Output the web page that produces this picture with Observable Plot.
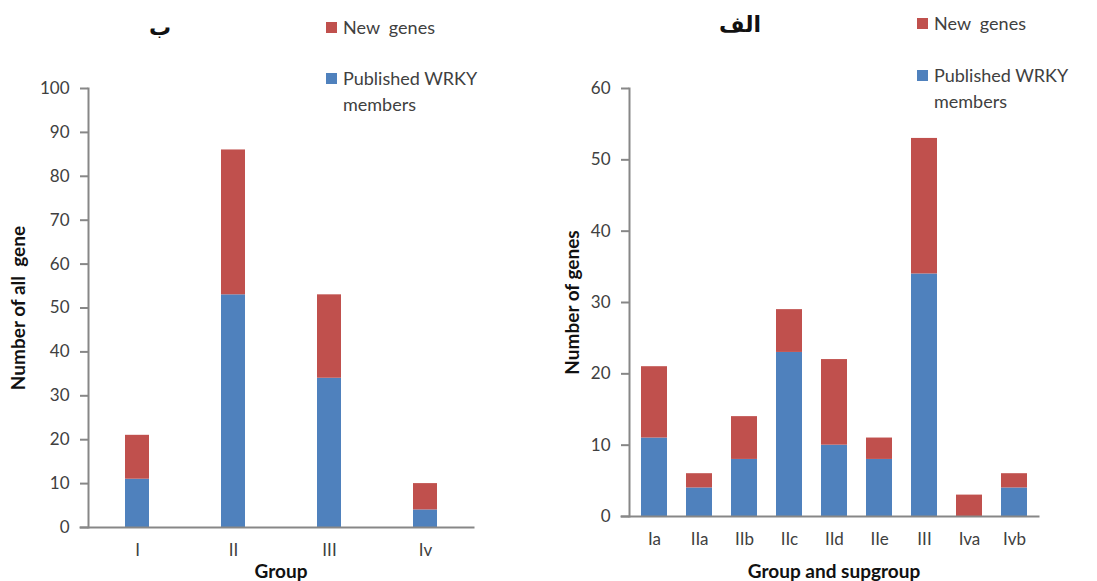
<!DOCTYPE html>
<html>
<head>
<meta charset="utf-8">
<script src="https://cdn.jsdelivr.net/npm/d3@7"></script>
<script src="https://cdn.jsdelivr.net/npm/@observablehq/plot@0.6"></script>
<style>
  html, body { margin: 0; padding: 0; background: #fff; }
  #wrap { display: flex; width: 1097px; height: 581px; font-family: Lato, "Open Sans", sans-serif; }
  .panel { position: relative; height: 581px; }
  .panel svg { position: absolute; left: 0; top: 0; }
  .panel svg text { white-space: pre; }
  .title { position: absolute; font-family: "DejaVu Sans", sans-serif; font-weight: bold; font-size: 22px; line-height: 1; color: #111; transform: translate(-50%, -50%); direction: rtl; }
  .leg { position: absolute; font-size: 18px; color: #404040; white-space: pre; line-height: 26px; }
  .sw { position: absolute; width: 11px; height: 11px; }
</style>
</head>
<body>
<div id="wrap">
  <div class="panel" id="left" style="width:550px"></div>
  <div class="panel" id="right" style="width:547px"></div>
</div>
<script>
// Panel ب : WRKY genes per group
const groups = ["I", "II", "III", "Iv"];
const groupPublished = [11, 53, 34, 4];
const groupNew = [10, 33, 19, 6];

// Panel الف : WRKY genes per group and subgroup
const subgroups = ["Ia", "IIa", "IIb", "IIc", "IId", "IIe", "III", "Iva", "Ivb"];
const subPublished = [11, 4, 8, 23, 10, 8, 34, 0, 4];
const subNew = [10, 2, 6, 6, 12, 3, 19, 3, 2];

const seriesNames = ["Published WRKY members", "New  genes"];
const seriesColors = ["#4F81BD", "#C0504D"];
const yTicksLeft = d3.range(0, 101, 10);
const yTicksRight = d3.range(0, 61, 10);

function longForm(cats, pub, nw) {
  const rows = [];
  cats.forEach((c, i) => rows.push({cat: c, series: seriesNames[0], value: pub[i]}));
  cats.forEach((c, i) => rows.push({cat: c, series: seriesNames[1], value: nw[i]}));
  return rows;
}

const axisGray = "#878787";

function panel(opts) {
  return Plot.plot({
    width: opts.width,
    height: 581,
    marginTop: 88,
    marginBottom: opts.marginBottom,
    marginLeft: opts.marginLeft,
    marginRight: opts.marginRight,
    style: {fontFamily: "Lato, 'Open Sans', sans-serif", fontSize: "17px", color: "#404040", background: "transparent"},
    x: {domain: opts.cats, paddingInner: opts.pad, paddingOuter: opts.pad / 2},
    y: {domain: opts.yDomain},
    color: {domain: seriesNames, range: seriesColors},
    marks: [
      Plot.barY(longForm(opts.cats, opts.pub, opts.nw), {x: "cat", y: "value", fill: "series", order: seriesNames}),
      Plot.axisY({ticks: opts.yTicks, tickSize: 8, tickPadding: 11, stroke: axisGray, strokeWidth: 2, label: null, fill: "#404040"}),
      Plot.axisX({tickSize: 0, tickPadding: 16, label: null, fill: "#404040"}),
      Plot.frame({anchor: "left", stroke: axisGray, strokeWidth: 2}),
      Plot.frame({anchor: "bottom", stroke: axisGray, strokeWidth: 2, insetLeft: -8}),
      Plot.text([opts.xLabel], {frameAnchor: "bottom", dy: opts.xLabelDy, fontWeight: "bold", fontSize: 19, fill: "#111", lineAnchor: "bottom"}),
      Plot.text([opts.yLabel], {frameAnchor: "left", dx: opts.yLabelDx, rotate: -90, textAnchor: "middle", fontWeight: "bold", fontSize: 19, fill: "#111"})
    ]
  });
}

function addDecor(el, d) {
  const t = document.createElement("div");
  t.className = "title"; t.textContent = d.title;
  t.style.left = d.titleX + "px"; t.style.top = d.titleY + "px";
  el.appendChild(t);
  const items = [
    {color: seriesColors[1], text: "New  genes", y: d.legY1},
    {color: seriesColors[0], text: "Published WRKY\nmembers", y: d.legY2}
  ];
  for (const it of items) {
    const s = document.createElement("div");
    s.className = "sw"; s.style.background = it.color;
    s.style.left = d.swX + "px"; s.style.top = it.y + "px";
    el.appendChild(s);
    const l = document.createElement("div");
    l.className = "leg"; l.textContent = it.text;
    l.style.left = (d.swX + 17) + "px"; l.style.top = (it.y - 8) + "px";
    el.appendChild(l);
  }
}

const left = document.getElementById("left");
left.appendChild(panel({
  width: 550, marginBottom: 54, marginLeft: 88, marginRight: 77, pad: 0.75,
  cats: groups, pub: groupPublished, nw: groupNew, yDomain: [0, 100], yTicks: yTicksLeft,
  xLabel: "Group", xLabelDy: 50, yLabel: "Number of all  gene", yLabelDx: -70
}));
addDecor(left, {title: "ب", titleX: 160, titleY: 28, swX: 326, legY1: 22, legY2: 73});

const right = document.getElementById("right");
right.appendChild(panel({
  width: 547, marginBottom: 65, marginLeft: 79, marginRight: 59, pad: 0.43,
  cats: subgroups, pub: subPublished, nw: subNew, yDomain: [0, 60], yTicks: yTicksRight,
  xLabel: "Group and supgroup", xLabelDy: 61, yLabel: "Number of genes", yLabelDx: -57
}));
addDecor(right, {title: "الف", titleX: 190, titleY: 25, swX: 367, legY1: 18, legY2: 70});
</script>
</body>
</html>
